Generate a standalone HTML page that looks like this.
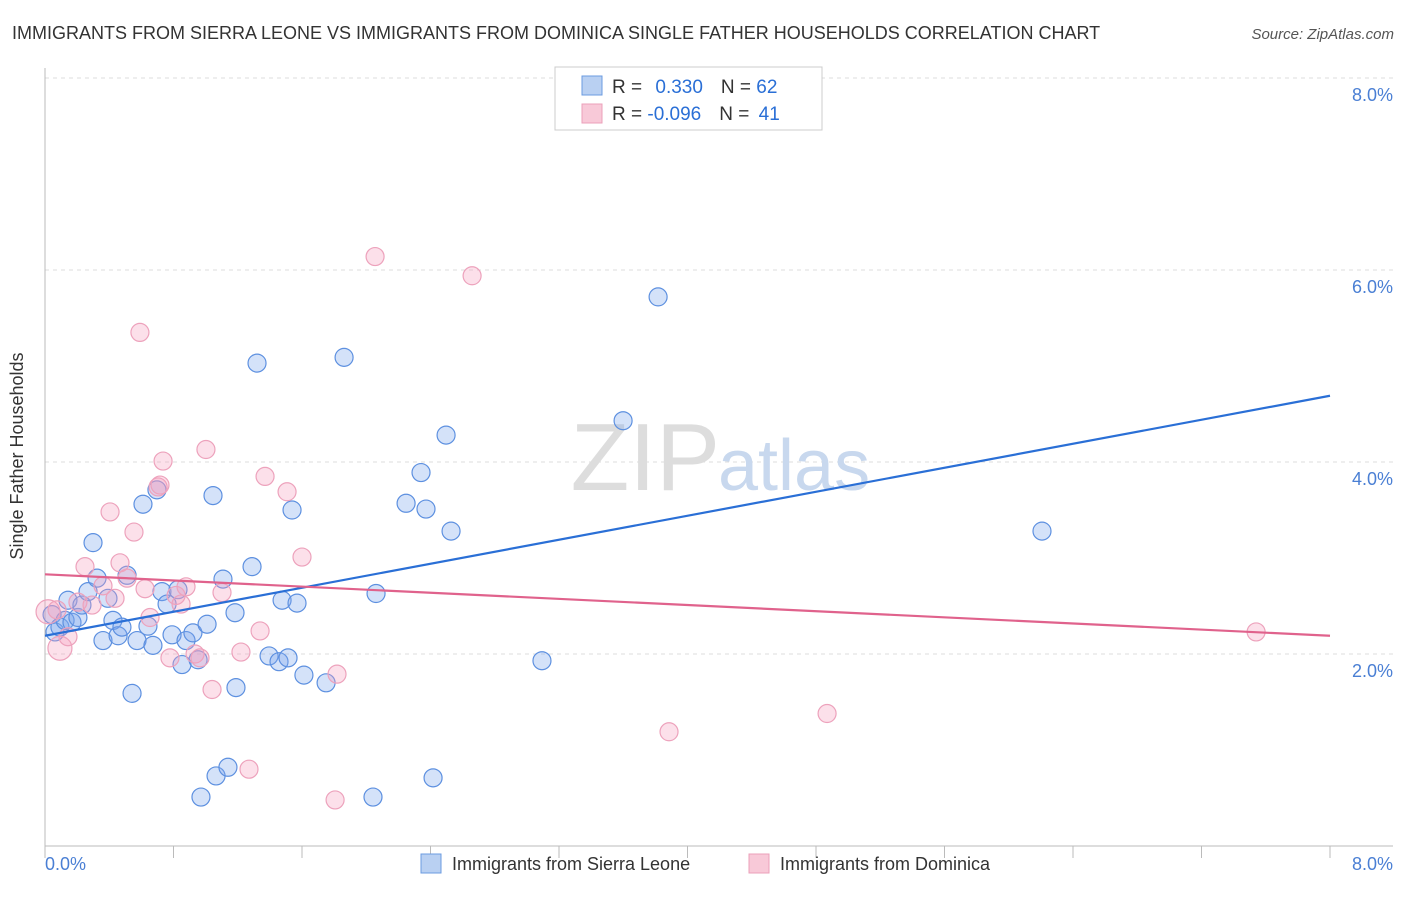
<!DOCTYPE html>
<html><head><meta charset="utf-8"><style>
body{margin:0;background:#fff;font-family:"Liberation Sans",sans-serif;}
svg text{font-family:"Liberation Sans",sans-serif;}
</style></head><body>
<svg id="chart" width="1406" height="892" viewBox="0 0 1406 892">
<text x="12" y="39" font-size="18" fill="#333">IMMIGRANTS FROM SIERRA LEONE VS IMMIGRANTS FROM DOMINICA SINGLE FATHER HOUSEHOLDS CORRELATION CHART</text>
<text x="1394" y="39" font-size="15" fill="#555" font-style="italic" text-anchor="end">Source: ZipAtlas.com</text>
<g id="grid"></g>
<line x1="45" y1="68" x2="45" y2="846" stroke="#bbb"/>
<line x1="45" y1="846" x2="1393" y2="846" stroke="#bbb"/>
<g id="xticks"></g>
<text x="720" y="490" font-size="96" fill="#ddd" text-anchor="end" font-family="Liberation Serif">ZIP</text>
<text x="718" y="490" font-size="72" fill="#c8d8ee">atlas</text>
<text x="23" y="456" font-size="18" fill="#333" text-anchor="middle" transform="rotate(-90 23 456)">Single Father Households</text>
<text x="45" y="870" font-size="18" fill="#4a7fd4">0.0%</text>
<text x="1393" y="870" font-size="18" fill="#4a7fd4" text-anchor="end">8.0%</text>
<g id="pts"></g>
<g id="lines"></g>
<g>
<rect x="555" y="67" width="267" height="63" fill="#fff" stroke="#ccc"/>
<rect x="582" y="76" width="20" height="19" fill="#b9d0f2" stroke="#6b9be0"/>
<rect x="582" y="104" width="20" height="19" fill="#f8c9d8" stroke="#eba0ba"/>
<text x="612" y="93" font-size="19" fill="#333">R = <tspan fill="#2a6fd6" dx="8">0.330</tspan><tspan dx="18" fill="#333">N = </tspan><tspan fill="#2a6fd6">62</tspan></text>
<text x="612" y="120" font-size="19" fill="#333">R = <tspan fill="#2a6fd6">-0.096</tspan><tspan dx="18" fill="#333">N = </tspan><tspan fill="#2a6fd6" dx="4">41</tspan></text>
</g>
<g>
<rect x="421" y="854" width="20" height="19" fill="#b9d0f2" stroke="#6b9be0"/>
<text x="452" y="870" font-size="18" fill="#333">Immigrants from Sierra Leone</text>
<rect x="749" y="854" width="20" height="19" fill="#f8c9d8" stroke="#eba0ba"/>
<text x="780" y="870" font-size="18" fill="#333">Immigrants from Dominica</text>
</g>
</svg>
<script>
const yTicks=[2,4,6,8];
const yTickLabels=["2.0%","4.0%","6.0%","8.0%"];
const xTickVals=[0,0.8,1.6,2.4,3.2,4,4.8,5.6,6.4,7.2,8];
const blueX=[0.044,0.062,0.093,0.125,0.143,0.168,0.205,0.230,0.268,0.299,0.324,0.361,0.392,0.423,0.455,0.479,0.511,0.542,0.573,0.610,0.641,0.672,0.697,0.728,0.760,0.791,0.828,0.853,0.878,0.921,0.953,0.971,1.009,1.046,1.065,1.108,1.139,1.183,1.189,1.289,1.320,1.395,1.457,1.476,1.513,1.538,1.569,1.612,1.750,1.862,2.042,2.061,2.248,2.341,2.372,2.416,2.497,2.528,3.094,3.599,3.817,6.207];
const blueY=[2.41,2.23,2.28,2.35,2.56,2.33,2.38,2.51,2.65,3.16,2.79,2.14,2.58,2.35,2.19,2.28,2.82,1.59,2.14,3.56,2.29,2.09,3.71,2.65,2.52,2.20,2.67,1.89,2.14,2.22,1.94,0.51,2.31,3.65,0.73,2.78,0.82,2.43,1.65,2.91,5.03,1.98,1.92,2.56,1.96,3.50,2.53,1.78,1.70,5.09,0.51,2.63,3.57,3.89,3.51,0.71,4.28,3.28,1.93,4.43,5.72,3.28];
const pinkX=[0.019,0.093,0.143,0.205,0.249,0.293,0.361,0.405,0.436,0.467,0.511,0.554,0.591,0.623,0.654,0.704,0.735,0.778,0.816,0.847,0.878,0.934,0.965,1.002,1.040,1.102,1.220,1.270,1.339,1.370,1.507,1.600,1.806,1.818,2.055,2.659,3.885,4.869,7.540,0.075,0.716];
const pinkY=[2.44,2.06,2.18,2.54,2.91,2.51,2.71,3.48,2.58,2.95,2.79,3.27,5.35,2.68,2.38,3.74,4.01,1.96,2.61,2.52,2.70,2.00,1.96,4.13,1.63,2.64,2.02,0.80,2.24,3.85,3.69,3.01,0.48,1.79,6.14,5.94,1.19,1.38,2.23,2.46,3.76];
const blueTrend=[2.19,4.69];
const pinkTrend=[2.83,2.19];
const NS="http://www.w3.org/2000/svg";
const sx=v=>45+v/8*1285;
const sy=v=>846-v*96;
function mk(tag,attrs,parent){const e=document.createElementNS(NS,tag);for(const k in attrs)e.setAttribute(k,attrs[k]);parent.appendChild(e);return e;}
const grid=document.getElementById('grid');
yTicks.forEach((t,i)=>{
  const l=mk('line',{x1:45,x2:1393,y1:sy(t),y2:sy(t),stroke:'#ddd','stroke-dasharray':'4,4'},grid);
  
  
  const tx=mk('text',{x:1393,y:sy(t)+23,'font-size':18,fill:'#4a7fd4','text-anchor':'end'},grid);
  tx.textContent=yTickLabels[i];
  
  
});
const xt=document.getElementById('xticks');
xTickVals.forEach(v=>{
  const l=mk('line',{x1:sx(v),x2:sx(v),y1:846,y2:858,stroke:'#bbb'},xt);
  
  
});
const pts=document.getElementById('pts');
blueX.forEach((x,i)=>{
  const c=mk('circle',{cx:sx(x),cy:sy(blueY[i]),r:9,fill:'rgba(120,165,235,0.32)',stroke:'#5d90e0','stroke-width':1.2},pts);
  
  
});
pinkX.forEach((x,i)=>{
  const c=mk('circle',{cx:sx(x),cy:sy(pinkY[i]),r:i<2?12:9,fill:'rgba(245,160,190,0.32)',stroke:'#eda2bc','stroke-width':1.2},pts);
  
  
});
const lines=document.getElementById('lines');
const bl=mk('line',{x1:sx(0),y1:sy(blueTrend[0]),x2:sx(8),y2:sy(blueTrend[1]),stroke:'#2a6fd6','stroke-width':2.2},lines);


const pl=mk('line',{x1:sx(0),y1:sy(pinkTrend[0]),x2:sx(8),y2:sy(pinkTrend[1]),stroke:'#e0628c','stroke-width':2.2},lines);


</script>
</body></html>
